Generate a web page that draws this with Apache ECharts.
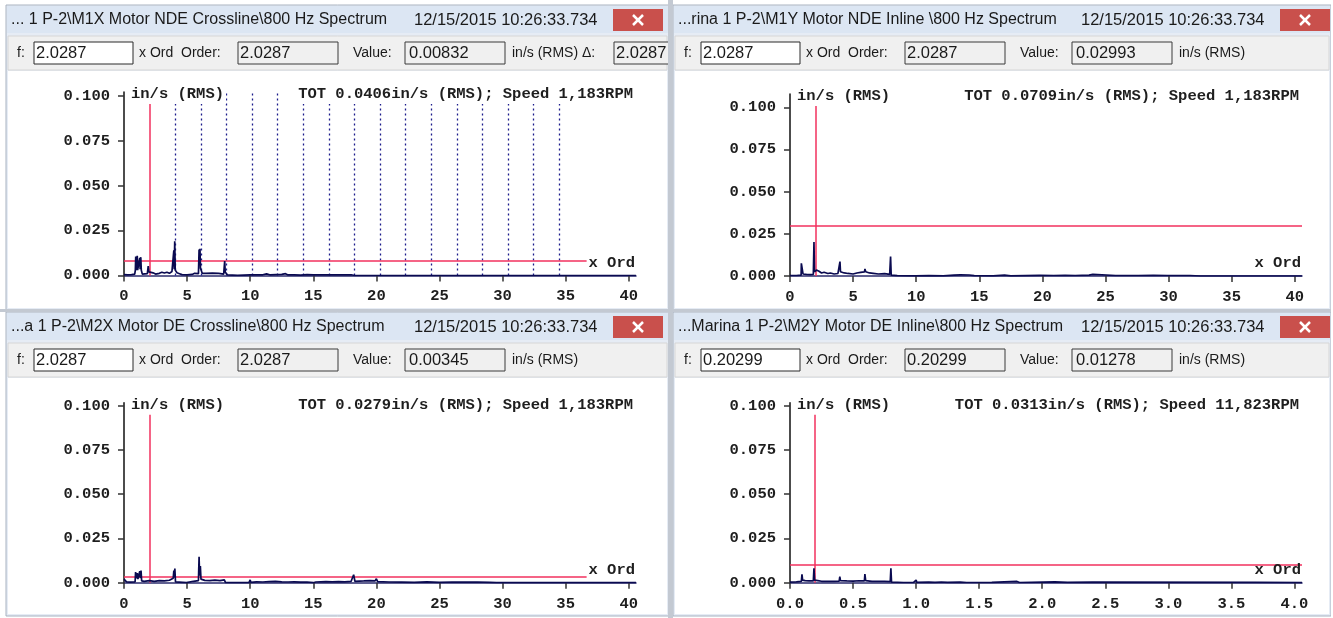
<!DOCTYPE html>
<html><head><meta charset="utf-8">
<script src="https://cdn.jsdelivr.net/npm/echarts@6/dist/echarts.min.js"></script>
<style>html,body{margin:0;padding:0;background:#fff}#c{width:1333px;height:618px}</style>
</head><body><div id="c"></div>
<script>
// ---------------- DATA ----------------
const panelTitles = [
  '... 1 P-2\\M1X Motor NDE Crossline\\800 Hz Spectrum',
  '...rina 1 P-2\\M1Y Motor NDE Inline \\800 Hz Spectrum',
  '...a 1 P-2\\M2X Motor DE Crossline\\800 Hz Spectrum',
  '...Marina 1 P-2\\M2Y Motor DE Inline\\800 Hz Spectrum'
];
const timestamp = '12/15/2015 10:26:33.734';
const cursorF = ['2.0287', '2.0287', '2.0287', '0.20299'];
const cursorOrder = [2.0287, 2.0287, 2.0287, 0.20299];
const cursorValue = [0.00832, 0.02993, 0.00345, 0.01278];
const totText = [
  'TOT 0.0406in/s (RMS); Speed 1,183RPM',
  'TOT 0.0709in/s (RMS); Speed 1,183RPM',
  'TOT 0.0279in/s (RMS); Speed 1,183RPM',
  'TOT 0.0313in/s (RMS); Speed 11,823RPM'
];
const yTicks = [0, 0.025, 0.05, 0.075, 0.1];
const xTicksOrd = [0, 5, 10, 15, 20, 25, 30, 35, 40];
const xTicksSmall = [0, 0.5, 1.0, 1.5, 2.0, 2.5, 3.0, 3.5, 4.0];
const harmonicOrders = [4.06, 6.09, 8.11, 10.14, 12.17, 14.20, 16.23, 18.26, 20.29, 22.32, 24.34, 26.37, 28.40, 30.43, 32.46, 34.49];

const m1xOrder = [0,0.3,0.6,0.85,0.9,0.93,0.96,1.0,1.05,1.08,1.2,1.25,1.28,1.33,1.37,1.45,1.6,1.85,1.92,1.97,2.1,2.3,2.5,2.8,3.0,3.2,3.4,3.6,3.8,3.9,3.95,3.98,4.02,4.06,4.2,4.4,4.6,5.0,5.4,5.6,5.9,5.95,5.98,6.02,6.06,6.2,6.5,7.0,7.5,7.9,7.98,8.02,8.2,9.0,10.0,11.0,11.3,11.6,12.5,12.8,13.0,13.5,14.0,14.5,15.0,16.0,17.0,18.0,18.3,40.57];
const m1xAmp = [0.0005,0.0003,0.0005,0.0008,0.003,0.0105,0.003,0.0035,0.011,0.003,0.003,0.0098,0.0035,0.0102,0.003,0.0008,0.0005,0.001,0.0052,0.002,0.0022,0.0015,0.0008,0.0012,0.0018,0.0014,0.0018,0.0012,0.0022,0.003,0.014,0.0035,0.019,0.003,0.0015,0.001,0.0005,0.0003,0.0006,0.0012,0.001,0.0145,0.006,0.0148,0.004,0.0012,0.0012,0.0013,0.0012,0.0008,0.008,0.002,0.0003,0.0001,0.0003,0.0004,0.0009,0.0003,0.0006,0.001,0.0003,0.0004,0.0002,0.0005,0.0003,0.0004,0.0003,0.0004,0,0];

const m1yOrder = [0,0.5,0.88,0.9,0.95,1.0,1.03,1.3,1.6,1.85,1.9,1.94,2.0,2.1,2.3,2.5,2.7,3.0,3.2,3.5,3.8,3.92,3.96,4.0,4.3,4.6,5.0,5.3,5.6,5.9,5.94,6.0,6.3,6.6,7.0,7.5,7.9,7.97,8.02,8.5,9.5,9.97,10.0,10.05,11.0,12.15,12.2,12.3,13.0,13.5,14.2,14.6,15.9,16.0,16.1,17.0,17.5,19.8,20.9,21.8,22.6,23.7,24.0,24.1,25.8,27.6,28.8,29.9,30.0,30.8,31.7,32.5,40.57];
const m1yAmp = [0.0003,0.0003,0.0005,0.0075,0.007,0.0072,0.0012,0.001,0.0008,0.001,0.0202,0.0025,0.003,0.0035,0.0028,0.0018,0.0022,0.0015,0.0018,0.0012,0.0015,0.002,0.0085,0.0025,0.0018,0.0015,0.0012,0.0018,0.0022,0.0025,0.0042,0.0025,0.0018,0.0016,0.0012,0.0014,0.001,0.0115,0.0005,0.0002,0.0001,0.0001,0.0012,0.0002,0.0002,0.0001,0.0006,0.0001,0.0005,0.0007,0.0006,0.0002,0.0001,0.0008,0.0001,0.0005,0.0001,0.0004,0.0003,0.0004,0.0003,0.0005,0.001,0.0002,0.0003,0.0003,0.0004,0.0003,0.0009,0.0003,0.0003,0,0];

const m2xOrder = [0,0.1,0.2,0.5,0.88,0.92,0.96,1.05,1.1,1.25,1.3,1.35,1.4,1.6,2.0,2.4,2.8,3.2,3.6,3.9,3.95,3.99,4.03,4.08,4.15,4.95,5.0,5.5,5.9,5.95,5.99,6.05,6.1,6.4,6.8,7.2,7.6,7.95,8.0,8.05,9.9,10.0,10.05,10.5,11.0,11.5,12.0,12.5,13.0,13.5,14.0,14.5,15.0,15.2,16.0,16.5,17.0,17.5,18.0,18.2,18.3,19.0,19.5,19.9,20.0,20.1,21.0,22.0,23.0,24.0,25.0,26.0,27.0,28.0,29.0,29.5,40.57];
const m2xAmp = [0.002,0.0018,0.0005,0.0003,0.0005,0.006,0.0025,0.0055,0.002,0.0065,0.0025,0.0068,0.001,0.0008,0.0012,0.0008,0.0012,0.001,0.0014,0.0025,0.0068,0.003,0.008,0.0005,0,0,0.0005,0.0008,0.0012,0.0147,0.004,0.0094,0.002,0.0013,0.0012,0.0015,0.0012,0.0016,0.0025,0,0,0.0016,0.0002,0.0005,0.0004,0.0006,0.0008,0.0005,0.0004,0.0005,0.0003,0.0004,0,0.0004,0.0006,0.0005,0.0006,0.0005,0.0008,0.0045,0.0008,0.001,0.0012,0.001,0.0022,0.0006,0.0004,0.0003,0.0002,0.0005,0.0002,0.0004,0.0003,0.0004,0.0002,0,0];

const m2yOrder = [0,0.05,0.09,0.095,0.1,0.12,0.15,0.185,0.19,0.195,0.22,0.25,0.3,0.35,0.39,0.395,0.4,0.45,0.5,0.55,0.59,0.594,0.6,0.65,0.7,0.75,0.795,0.8,0.805,0.9,0.98,1.0,1.005,1.1,1.15,1.2,1.25,1.35,1.4,1.6,1.8,1.82,2.1,2.2,2.4,3.7,4.06];
const m2yAmp = [0.0003,0.0005,0.0007,0.0047,0.0015,0.0012,0.001,0.001,0.0081,0.0015,0.0012,0.0008,0.0007,0.0008,0.0009,0.0035,0.0012,0.001,0.0009,0.0011,0.001,0.0049,0.0012,0.0008,0.0007,0.0007,0.0006,0.0081,0.0003,0.0001,0.0002,0.0015,0.0002,0.0003,0.0002,0.0004,0.0002,0.0003,0.0001,0.0002,0.0007,0.0001,0.0005,0.0002,0.0003,0.0002,0];

// ---------------- LAYOUT ----------------
const MONO = '"Liberation Mono", "DejaVu Sans Mono", monospace';
const SANS = '"Liberation Sans", Arial, sans-serif';
const panels = [
  {x:6, y:5, w:663, h:305},
  {x:673, y:5, w:658, h:305},
  {x:6, y:312, w:663, h:304},
  {x:673, y:312, w:658, h:304}
];
const grids = [
  {left:124, top:92, width:512, height:183.5, xmax:40.574, ymax:0.10206, hEnd:36.66},
  {left:790, top:94, width:512, height:182, xmax:40.574, ymax:0.1079, hEnd:null},
  {left:124, top:402.7, width:512, height:180, xmax:40.574, ymax:0.1017, hEnd:36.66},
  {left:790, top:402.7, width:512, height:180, xmax:4.0598, ymax:0.1017, hEnd:null}
];
const spectra = [[m1xOrder,m1xAmp],[m1yOrder,m1yAmp],[m2xOrder,m2xAmp],[m2yOrder,m2yAmp]];

const RED = '#f2305e';
const NAVY = '#0a0a50';
const MONO_SIZE = 15.5;
const MONOFONT = 'bold ' + MONO_SIZE + 'px ' + MONO;
const TITLEFONT = '16px ' + SANS;
const DATEFONT = '16.5px ' + SANS;
const LABELFONT = '14px ' + SANS;
const NUMFONT = '16.5px ' + SANS;

const chart = echarts.init(document.getElementById('c'), null, {renderer:'canvas'});

const graphics = [];
function rect(x,y,w,h,fill,stroke,z){graphics.push({type:'rect',shape:{x,y,width:w,height:h},style:{fill,stroke:stroke||null,lineWidth:1},z:z||0,silent:true});}
function txt(x,y,t,font,fill,align,bg,z){
  const st={text:t,font,fill:fill||'#1a1a1a',textAlign:align||'left',textVerticalAlign:'middle'};
  if(bg){st.backgroundColor=bg;st.padding=[2,2,2,2];}
  graphics.push({type:'text',x,y,style:st,z:z||1,silent:true});
}
function line(x1,y1,x2,y2,stroke,w,z){graphics.push({type:'line',shape:{x1,y1,x2,y2},style:{stroke,lineWidth:w||1},z:z||1,silent:true});}

rect(0,0,1333,618,'#ffffff');
panels.forEach((p,i)=>{
  rect(p.x,p.y,p.w,p.h,'#e6ecf5','#a8b2c0');
  rect(p.x+1,p.y+1,p.w-2,27,'#dce6f3');
  txt(p.x+5,p.y+15,panelTitles[i],TITLEFONT,'#1a1a1a');
  txt(p.x+408,p.y+15,timestamp,DATEFONT,'#1a1a1a');
  rect(p.x+607,p.y+4,50,22,'#c9504c');
  const cx=p.x+632, cy=p.y+15;
  line(cx-5,cy-5,cx+5,cy+5,'#ffffff',2.5,2);
  line(cx-5,cy+5,cx+5,cy-5,'#ffffff',2.5,2);
  rect(p.x+2,p.y+31,p.w-4,34,'#f0f0f0','#d6d6d6');
  const ty=p.y+48;
  txt(p.x+11,ty,'f:',LABELFONT);
  rect(p.x+28,p.y+37,99,22,'#ffffff','#2a2a2a',1);
  txt(p.x+30,ty,cursorF[i],NUMFONT,'#1a1a1a','left',null,2);
  txt(p.x+133,ty,'x Ord  Order:',LABELFONT);
  rect(p.x+232,p.y+37,100,22,'#f0f0f0','#3a3a3a',1);
  txt(p.x+234,ty,cursorF[i],NUMFONT,'#1a1a1a','left',null,2);
  txt(p.x+347,ty,'Value:',LABELFONT);
  rect(p.x+399,p.y+37,100,22,'#f0f0f0','#3a3a3a',1);
  txt(p.x+403,ty,cursorValue[i].toFixed(5),NUMFONT,'#1a1a1a','left',null,2);
  txt(p.x+506,ty,'in/s (RMS)',LABELFONT);
  if(i===0){
    txt(p.x+576,ty,'\u0394:',LABELFONT);
    rect(p.x+608,p.y+37,56,22,'#f0f0f0','#3a3a3a',1);
    txt(p.x+610,ty,'2.0287',NUMFONT,'#1a1a1a','left',null,2);
  }
  rect(p.x+2,p.y+66,p.w-4,p.h-68,'#ffffff');
});
rect(668,0,5,618,'#c3c9d2',null,5);
rect(0,309,1333,3,'#c3c9d2',null,5);
rect(1331,0,2,618,'#ffffff',null,5);

grids.forEach((g,i)=>{
  const yTop = g.top+2;
  txt(g.left+5, yTop, 'in/s (RMS)', MONOFONT, '#1e1e1e', 'left', '#ffffff', 20);
  txt(g.left+g.width-1, yTop, totText[i], MONOFONT, '#1e1e1e', 'right', '#ffffff', 20);
  txt(g.left+g.width-1, g.top+g.height-12.5, 'x Ord', MONOFONT, '#1e1e1e', 'right', null, 20);
});

const option = {
  backgroundColor:'#ffffff',
  animation:false,
  grid: grids.map(g=>({left:g.left, top:g.top, width:g.width, height:g.height, containLabel:false, outerBoundsMode:'none'})),
  xAxis: grids.map((g,i)=>{
    const ticks = i===3 ? xTicksSmall : xTicksOrd;
    return {
      type:'value', gridIndex:i, min:0, max:g.xmax,
      axisLine:{show:true, onZero:false, lineStyle:{color:'#2c2c6e', width:1.5}},
      axisTick:{show:true, customValues:ticks, length:6, lineStyle:{color:'#333', width:1.5}},
      axisLabel:{show:true, customValues:ticks, margin:13, color:'#1e1e1e', fontFamily:MONO, fontWeight:'bold', fontSize:MONO_SIZE,
        formatter: v => i===3 ? Number(v).toFixed(1) : String(Math.round(v))},
      splitLine:{show:false}
    };
  }),
  yAxis: grids.map((g,i)=>({
    type:'value', gridIndex:i, min:0, max:g.ymax,
    axisLine:{show:true, onZero:false, lineStyle:{color:'#111', width:1.5}},
    axisTick:{show:true, customValues:yTicks, length:6, lineStyle:{color:'#333', width:1.5}},
    axisLabel:{show:true, customValues:yTicks, margin:14, color:'#1e1e1e', fontFamily:MONO, fontWeight:'bold', fontSize:MONO_SIZE,
      formatter: v => Number(v).toFixed(3)},
    splitLine:{show:false}
  })),
  series: spectra.map((s,i)=>{
    const g = grids[i];
    const ml = [];
    if(i===0){
      harmonicOrders.forEach(h=>ml.push({xAxis:h, lineStyle:{color:'#1c1c8c', width:1.3, type:[2,3]}}));
    }
    ml.push({xAxis:cursorOrder[i], lineStyle:{color:RED, width:1.5, type:'solid'}});
    if(g.hEnd){
      ml.push([{coord:[0,cursorValue[i]], lineStyle:{color:RED, width:1.5, type:'solid'}},{coord:[g.hEnd,cursorValue[i]]}]);
    } else {
      ml.push({yAxis:cursorValue[i], lineStyle:{color:RED, width:1.5, type:'solid'}});
    }
    return {
      type:'line', xAxisIndex:i, yAxisIndex:i,
      data: s[0].map((x,k)=>[x, s[1][k]]),
      symbol:'none', lineStyle:{color:NAVY, width:1.7}, z:3,
      markLine:{silent:true, symbol:['none','none'], label:{show:false}, animation:false, data:ml, z:2}
    };
  }),
  graphic: graphics
};
chart.setOption(option);
</script></body></html>
